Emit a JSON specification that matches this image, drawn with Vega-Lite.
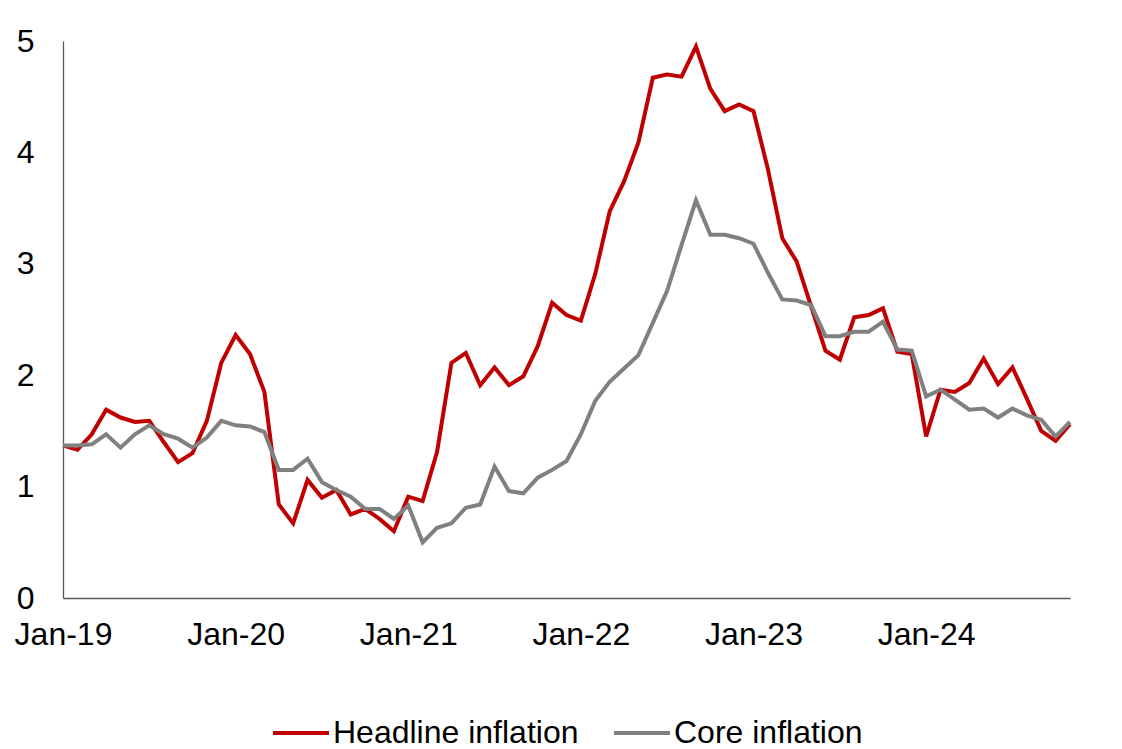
{
  "$schema": "https://vega.github.io/schema/vega-lite/v6.json",
  "width": 1007,
  "height": 557,
  "autosize": "none",
  "padding": {"left": 63, "top": 41, "right": 52, "bottom": 151},
  "background": "white",
  "config": {
    "view": {"stroke": null},
    "font": "Liberation Sans",
    "axis": {"labelFont": "Liberation Sans", "labelColor": "#000000", "labelFontSize": 32, "ticks": false, "grid": false, "domainColor": "#595959", "domainWidth": 1.3, "title": null},
    "legend": {"labelFont": "Liberation Sans", "labelFontSize": 32, "labelColor": "#000000", "labelLimit": 0, "layout": {"bottom": {"anchor": "middle"}}}
  },
  "data": {
    "values": [
      {"m":"Jan-19","h":1.37,"c":1.37},{"m":"Feb-19","h":1.33,"c":1.37},{"m":"Mar-19","h":1.47,"c":1.38},{"m":"Apr-19","h":1.69,"c":1.47},
      {"m":"May-19","h":1.62,"c":1.35},{"m":"Jun-19","h":1.58,"c":1.47},{"m":"Jul-19","h":1.59,"c":1.55},{"m":"Aug-19","h":1.40,"c":1.47},
      {"m":"Sep-19","h":1.22,"c":1.43},{"m":"Oct-19","h":1.30,"c":1.35},{"m":"Nov-19","h":1.59,"c":1.44},{"m":"Dec-19","h":2.11,"c":1.59},
      {"m":"Jan-20","h":2.36,"c":1.55},{"m":"Feb-20","h":2.19,"c":1.54},{"m":"Mar-20","h":1.85,"c":1.49},{"m":"Apr-20","h":0.84,"c":1.15},
      {"m":"May-20","h":0.67,"c":1.15},{"m":"Jun-20","h":1.06,"c":1.25},{"m":"Jul-20","h":0.90,"c":1.04},{"m":"Aug-20","h":0.97,"c":0.97},
      {"m":"Sep-20","h":0.75,"c":0.91},{"m":"Oct-20","h":0.80,"c":0.80},{"m":"Nov-20","h":0.71,"c":0.80},{"m":"Dec-20","h":0.60,"c":0.71},
      {"m":"Jan-21","h":0.91,"c":0.83},{"m":"Feb-21","h":0.87,"c":0.50},{"m":"Mar-21","h":1.31,"c":0.63},{"m":"Apr-21","h":2.11,"c":0.67},
      {"m":"May-21","h":2.20,"c":0.81},{"m":"Jun-21","h":1.91,"c":0.84},{"m":"Jul-21","h":2.07,"c":1.18},{"m":"Aug-21","h":1.91,"c":0.96},
      {"m":"Sep-21","h":1.99,"c":0.94},{"m":"Oct-21","h":2.26,"c":1.08},{"m":"Nov-21","h":2.65,"c":1.15},{"m":"Dec-21","h":2.54,"c":1.23},
      {"m":"Jan-22","h":2.49,"c":1.47},{"m":"Feb-22","h":2.91,"c":1.77},{"m":"Mar-22","h":3.47,"c":1.94},{"m":"Apr-22","h":3.74,"c":2.06},
      {"m":"May-22","h":4.09,"c":2.18},{"m":"Jun-22","h":4.67,"c":2.47},{"m":"Jul-22","h":4.70,"c":2.76},{"m":"Aug-22","h":4.68,"c":3.17},
      {"m":"Sep-22","h":4.95,"c":3.57},{"m":"Oct-22","h":4.57,"c":3.26},{"m":"Nov-22","h":4.37,"c":3.26},{"m":"Dec-22","h":4.43,"c":3.23},
      {"m":"Jan-23","h":4.37,"c":3.18},{"m":"Feb-23","h":3.85,"c":2.92},{"m":"Mar-23","h":3.23,"c":2.68},{"m":"Apr-23","h":3.02,"c":2.67},
      {"m":"May-23","h":2.62,"c":2.63},{"m":"Jun-23","h":2.22,"c":2.35},{"m":"Jul-23","h":2.14,"c":2.35},{"m":"Aug-23","h":2.52,"c":2.39},
      {"m":"Sep-23","h":2.54,"c":2.39},{"m":"Oct-23","h":2.60,"c":2.48},{"m":"Nov-23","h":2.21,"c":2.23},{"m":"Dec-23","h":2.19,"c":2.22},
      {"m":"Jan-24","h":1.45,"c":1.81},{"m":"Feb-24","h":1.87,"c":1.87},{"m":"Mar-24","h":1.85,"c":1.78},{"m":"Apr-24","h":1.93,"c":1.69},
      {"m":"May-24","h":2.15,"c":1.70},{"m":"Jun-24","h":1.92,"c":1.62},{"m":"Jul-24","h":2.07,"c":1.70},{"m":"Aug-24","h":1.79,"c":1.64},
      {"m":"Sep-24","h":1.50,"c":1.60},{"m":"Oct-24","h":1.41,"c":1.45},{"m":"Nov-24","h":1.56,"c":1.58}
    ]
  },
  "transform": [
    {"fold": ["h", "c"], "as": ["key", "value"]},
    {"lookup": "key", "from": {"data": {"values": [{"key": "h", "series": "Headline inflation"}, {"key": "c", "series": "Core inflation"}]}, "key": "key", "fields": ["series"]}}
  ],
  "encoding": {
    "x": {
      "field": "m", "type": "ordinal", "sort": null,
      "scale": {"type": "point", "padding": 0},
      "axis": {"values": ["Jan-19", "Jan-20", "Jan-21", "Jan-22", "Jan-23", "Jan-24"], "labelAngle": 0, "labelPadding": 21, "labelOverlap": false}
    },
    "y": {
      "field": "value", "type": "quantitative",
      "scale": {"domain": [0, 5], "nice": false},
      "axis": {"values": [0, 1, 2, 3, 4, 5], "labelPadding": 29}
    },
    "color": {
      "field": "series", "type": "nominal",
      "scale": {"domain": ["Headline inflation", "Core inflation"], "range": ["#C00000", "#808080"]},
      "legend": {"title": null, "orient": "bottom", "direction": "horizontal", "symbolType": "stroke", "symbolStrokeWidth": 4, "symbolSize": 3136, "labelOffset": 2, "columnPadding": 27, "offset": 53}
    }
  },
  "layer": [
    {"transform": [{"filter": "datum.key === 'h'"}], "mark": {"type": "line", "strokeWidth": 4}},
    {"transform": [{"filter": "datum.key === 'c'"}], "mark": {"type": "line", "strokeWidth": 4}}
  ]
}
